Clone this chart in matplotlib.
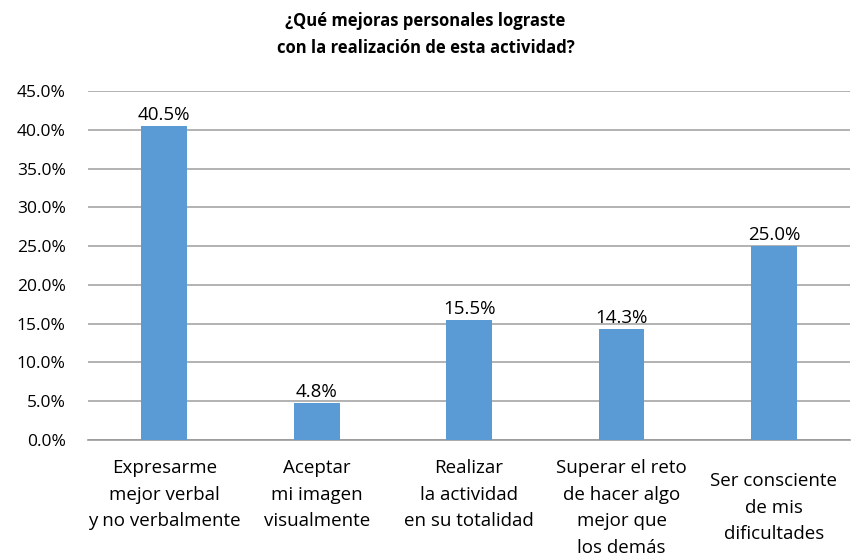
import matplotlib.pyplot as plt
from matplotlib.transforms import blended_transform_factory
from matplotlib import font_manager

categories = [
    "Expresarme\nmejor verbal\ny no verbalmente",
    "Aceptar\nmi imagen\nvisualmente",
    "Realizar\nla actividad\nen su totalidad",
    "Superar el reto\nde hacer algo\nmejor que\nlos demás",
    "Ser consciente\nde mis\ndificultades",
]
values = [40.5, 4.8, 15.5, 14.3, 25.0]
label_offsets = [0, 0, 0, 0, 13]  # extra px drop for last label, as in source
title = "¿Qué mejoras personales lograste\ncon la realización de esta actividad?"

names = {f.name for f in font_manager.fontManager.ttflist}
fam = "Open Sans" if "Open Sans" in names else "DejaVu Sans"
plt.rcParams["font.family"] = [fam, "DejaVu Sans"]

bar_color = "#5B9BD5"
grid_color = "#A6A6A6"

fig = plt.figure(figsize=(8.51, 5.55), dpi=100)
ax = fig.add_axes([0.1034, 0.2072, 0.8956, 0.6288])

x = list(range(len(values)))
ax.bar(x, values, width=0.3, color=bar_color, zorder=3)
for xi, v in zip(x, values):
    ax.text(xi, v + 0.25, f"{v:.1f}%", ha="center", va="bottom", fontsize=13.5, zorder=4)

ax.set_xlim(-0.5, len(values) - 0.5)
ax.set_ylim(0, 45)
ticks = [i * 5 for i in range(10)]
ax.set_yticks(ticks)
ax.set_yticklabels([f"{t:.1f}%" for t in ticks], fontsize=12.5)
ax.yaxis.grid(True, color=grid_color, linewidth=1.2, zorder=0)
ax.tick_params(axis="y", length=0, pad=16)
ax.tick_params(axis="x", length=0, labelbottom=False)
for s in ["top", "right", "left"]:
    ax.spines[s].set_visible(False)
ax.spines["bottom"].set_color("#999999")
ax.spines["bottom"].set_linewidth(1.2)

trans = blended_transform_factory(ax.transData, ax.transAxes)
for xi, lab, off in zip(x, categories, label_offsets):
    ax.annotate(lab, xy=(xi, 0), xycoords=trans, xytext=(0, -14 - off * 0.72),
                textcoords="offset points", ha="center", va="top",
                fontsize=13.5, linespacing=1.6)

fig.text(0.5, 0.978, title, ha="center", va="top", fontsize=12,
         fontweight="bold", linespacing=1.6)

fig.savefig("out.png", dpi=100)
